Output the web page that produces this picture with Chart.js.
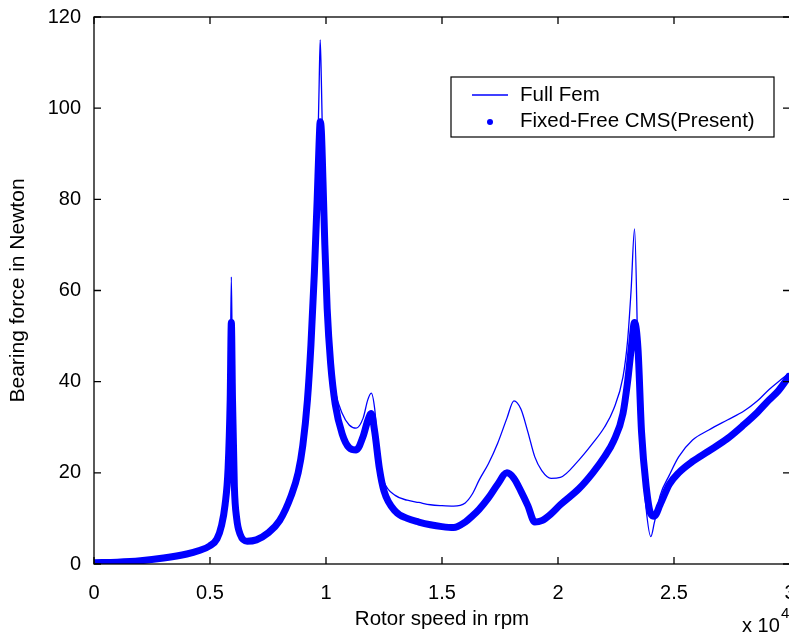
<!DOCTYPE html>
<html>
<head>
<meta charset="utf-8">
<script src="https://cdn.jsdelivr.net/npm/chart.js@4.4.1/dist/chart.umd.min.js"></script>
<style>
  html, body { margin: 0; padding: 0; background: #fff; overflow: hidden; }
  #wrap { position: relative; width: 800px; height: 635px; }
</style>
</head>
<body>
<div id="wrap"><canvas id="c"></canvas></div>
<script>
// ---- data ----
const rpm = [0, 1000, 2000, 3000, 4000, 4500, 5000, 5300, 5500, 5650, 5780, 5870, 5920, 5970, 6050, 6150, 6300, 6600, 7000, 7500,
  8000, 8500, 8800, 9000, 9200, 9350, 9500, 9620, 9700, 9750, 9800, 9870, 9950, 10050, 10200, 10400, 10700, 11000, 11300, 11600,
  11800, 11950, 12100, 12300, 12500, 13000, 13500, 14000, 14500, 15000, 15500, 16000, 16300, 16600, 17000, 17400, 17800, 18100, 18400, 18700,
  19000, 19300, 19700, 20100, 20900, 21500, 22000, 22400, 22800, 23000, 23150, 23300, 23450, 23600, 23800, 24000, 24150, 24400, 24800, 25200,
  25800, 26500, 27300, 28000, 28600, 29100, 29500, 30000];
const fullFem = [0.3, 0.4, 0.7, 1.3, 2.2, 2.9, 4.0, 5.5, 8.5, 13, 22, 40, 63, 40, 18, 10, 6.5, 5, 5.3, 6.8,
  9.5, 15, 20, 26, 36, 48, 65, 85, 104, 115, 106, 88, 72, 58, 46, 38, 33, 30.5, 29.8, 32,
  36, 37.5, 34, 22, 18, 15, 14, 13.5, 13, 12.8, 12.7, 13.4, 15.3, 18.4, 22, 26.5, 32, 35.8, 34, 29,
  23.5, 20.5, 18.8, 19, 22.8, 26.5, 30, 34, 41, 49, 60, 73.5, 45, 25, 12, 6, 9, 15, 19.5, 23.5,
  27.2, 29.4, 31.6, 33.5, 35.8, 38.3, 40, 42];
const fixedFreeCMS = [0.3, 0.4, 0.7, 1.3, 2.2, 2.9, 4.0, 5.5, 8.5, 13, 21, 36, 53, 36, 17, 10, 6.5, 5, 5.3, 6.8,
  9.5, 15, 20, 26, 36, 48, 64, 80, 92, 97, 95, 84, 70, 56, 44, 35, 28.5, 25.5, 25, 28,
  31.5, 33, 29, 21, 16, 11.5, 10, 9.2, 8.6, 8.2, 8, 9.2, 10.5, 12, 14.5, 17.5, 20, 18.8, 16, 12.8,
  9.2, 9.5, 11, 13, 16.5, 20, 23.5, 27, 33, 40, 47, 53, 47, 29, 17, 11, 10.5, 13, 17.5, 20,
  22.5, 24.8, 27.5, 30.5, 33.3, 36, 38, 41.5];
const xTicks = [0, 5000, 10000, 15000, 20000, 25000, 30000];
const yTicks = [0, 20, 40, 60, 80, 100, 120];
const seriesNames = ['Full Fem', 'Fixed-Free CMS(Present)'];
const xTitle = 'Rotor speed in rpm';
const yTitle = 'Bearing force in Newton';

const FONT = "'Liberation Sans', Arial, sans-serif";
const BLUE = '#0000ff';

const toPts = (ys) => rpm.map((x, i) => ({ x: x, y: ys[i] }));

const framePlugin = {
  id: 'frame',
  afterDatasetsDraw(chart) {
    const { ctx, chartArea: a, scales } = chart;
    ctx.save();
    ctx.strokeStyle = '#000';
    ctx.lineWidth = 1.3;
    ctx.strokeRect(a.left, a.top, a.right - a.left, a.bottom - a.top);
    const L = 7;
    ctx.beginPath();
    xTicks.forEach(v => {
      const px = scales.x.getPixelForValue(v);
      ctx.moveTo(px, a.bottom); ctx.lineTo(px, a.bottom - L);
      ctx.moveTo(px, a.top); ctx.lineTo(px, a.top + L);
    });
    yTicks.forEach(v => {
      const py = scales.y.getPixelForValue(v);
      ctx.moveTo(a.left, py); ctx.lineTo(a.left + L, py);
      ctx.moveTo(a.right, py); ctx.lineTo(a.right - L, py);
    });
    ctx.stroke();

    // exponent label "x 10^4"
    ctx.fillStyle = '#000';
    ctx.textBaseline = 'alphabetic';
    ctx.textAlign = 'left';
    ctx.font = '20px ' + FONT;
    ctx.fillText('x 10', 742, 632);
    ctx.font = '15px ' + FONT;
    ctx.fillText('4', 781, 618);

    // legend box
    const bx = 451, by = 77, bw = 323, bh = 60;
    ctx.fillStyle = '#fff';
    ctx.fillRect(bx, by, bw, bh);
    ctx.lineWidth = 1.2;
    ctx.strokeStyle = '#000';
    ctx.strokeRect(bx, by, bw, bh);
    ctx.strokeStyle = BLUE;
    ctx.lineWidth = 1.3;
    ctx.beginPath();
    ctx.moveTo(472, 95); ctx.lineTo(508, 95);
    ctx.stroke();
    ctx.fillStyle = BLUE;
    ctx.beginPath();
    ctx.arc(490, 122, 3, 0, Math.PI * 2);
    ctx.fill();
    ctx.fillStyle = '#000';
    ctx.font = '20.5px ' + FONT;
    ctx.textBaseline = 'middle';
    ctx.fillText(seriesNames[0], 520, 95);
    ctx.fillText(seriesNames[1], 520, 121);
    ctx.restore();
  }
};

new Chart(document.getElementById('c'), {
  type: 'line',
  data: {
    datasets: [
      { label: seriesNames[0], data: toPts(fullFem), borderColor: BLUE, borderWidth: 1.3,
        pointRadius: 0, cubicInterpolationMode: 'monotone', fill: false, order: 0 },
      { label: seriesNames[1], data: toPts(fixedFreeCMS), borderColor: BLUE, borderWidth: 7,
        pointRadius: 0, cubicInterpolationMode: 'monotone', fill: false, order: 1 }
    ]
  },
  options: {
    responsive: true,
    maintainAspectRatio: false,
    animation: false,
    devicePixelRatio: 1,
    layout: { padding: { left: 0, top: 17, right: 10, bottom: 0 } },
    plugins: { legend: { display: false }, tooltip: { enabled: false } },
    scales: {
      x: {
        type: 'linear', min: 0, max: 30000,
        afterBuildTicks: (s) => { s.ticks = xTicks.map(v => ({ value: v })); },
        afterFit: (s) => { s.height = 71; s.paddingLeft = 0; s.paddingRight = 0; },
        ticks: { callback: (v) => String(v / 10000), color: '#000', padding: 17,
                 font: { family: FONT, size: 20 }, maxRotation: 0, autoSkip: false },
        grid: { display: false, drawTicks: false },
        border: { display: false },
        title: { display: true, text: xTitle, color: '#000', font: { family: FONT, size: 20.5 },
                 padding: { top: 0, bottom: 3 } }
      },
      y: {
        min: 0, max: 120,
        afterBuildTicks: (s) => { s.ticks = yTicks.map(v => ({ value: v })); },
        afterFit: (s) => { s.width = 94; s.paddingTop = 0; s.paddingBottom = 0; },
        ticks: { color: '#000', padding: 13, font: { family: FONT, size: 20 } },
        grid: { display: false, drawTicks: false },
        border: { display: false },
        title: { display: true, text: yTitle, color: '#000', font: { family: FONT, size: 21 },
                 padding: { top: 6, bottom: 0 } }
      }
    }
  },
  plugins: [framePlugin]
});
</script>
</body>
</html>
